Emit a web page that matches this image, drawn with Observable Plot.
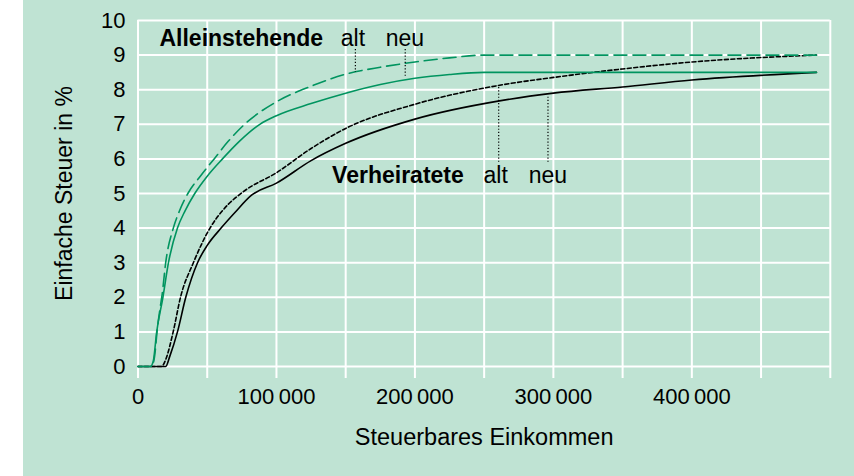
<!DOCTYPE html>
<html>
<head>
<meta charset="utf-8">
<script src="https://cdn.jsdelivr.net/npm/d3@7"></script>
<script src="https://cdn.jsdelivr.net/npm/@observablehq/plot@0.6"></script>
<style>
  html, body { margin: 0; padding: 0; background: #fff; }
</style>
</head>
<body>
<div id="chart"></div>
<script>
// Alleinstehende, alt (dashed green)
const alleinAltX = [0, 10000, 12000, 14000, 16000, 17500, 20000, 25500, 30000, 36000, 45000, 55000, 65000, 77000, 100000, 125000, 150000, 175000, 200000, 225000, 250000, 490000];
const alleinAltY = [0, 0, 0.3, 1.1, 1.7, 2.1, 3.0, 4.0, 4.5, 5.0, 5.5, 6.0, 6.5, 7.0, 7.65, 8.1, 8.45, 8.65, 8.8, 8.92, 9.0, 9.0];
// Alleinstehende, neu (solid green)
const alleinNeuX = [0, 9000, 11000, 13500, 18000, 22000, 28500, 34000, 41000, 50000, 61000, 73000, 88000, 100000, 125000, 150000, 175000, 200000, 225000, 250000, 490000];
const alleinNeuY = [0, 0, 0.15, 1.0, 2.0, 3.0, 4.0, 4.5, 5.0, 5.5, 6.0, 6.5, 7.0, 7.25, 7.6, 7.9, 8.15, 8.33, 8.44, 8.5, 8.5];
// Verheiratete, alt (dotted black)
const verhAltX = [0, 17000, 20000, 25400, 30700, 40000, 52000, 62000, 76000, 100000, 125000, 150000, 200000, 260000, 305000, 350000, 400000, 490000];
const verhAltY = [0, 0, 0.2, 1.0, 2.0, 3.0, 4.0, 4.55, 5.05, 5.6, 6.3, 6.88, 7.58, 8.12, 8.38, 8.6, 8.8, 9.0];
// Verheiratete, neu (solid black)
const verhNeuX = [0, 20000, 23000, 28500, 34500, 43000, 50000, 60000, 70000, 82000, 100000, 125000, 150000, 200000, 260000, 300000, 350000, 400000, 490000];
const verhNeuY = [0, 0, 0.3, 1.0, 2.0, 3.0, 3.5, 4.0, 4.45, 4.95, 5.3, 5.95, 6.45, 7.15, 7.67, 7.9, 8.08, 8.28, 8.5];

const xTicks = [0, 100000, 200000, 300000, 400000];
const xGrid = [0, 50000, 100000, 150000, 200000, 250000, 300000, 350000, 400000, 450000, 500000];
const yTicks = [0, 1, 2, 3, 4, 5, 6, 7, 8, 9, 10];

// Annotation labels
const groupLabels = ["Alleinstehende", "Verheiratete"];
const groupLabelX = [15500, 140200];
const groupLabelY = [9.48, 5.53];
const variantLabels = ["alt", "neu", "alt", "neu"];
const variantLabelX = [155200, 192800, 258300, 296000];
const variantLabelY = [9.48, 9.48, 5.53, 5.53];
// Dotted leaders
const leaderX = [157000, 193000, 260500, 296100];
const leaderY1 = [9.16, 9.16, 5.9, 5.9];
const leaderY2 = [8.5, 8.33, 8.12, 7.83];

const pts = (xs, ys) => xs.map((x, i) => ({x, y: ys[i]}));
const green = "#00945f";
const fmt = d => d3.format(",")(d).replace(/,/g, "\u2009");

const chart = Plot.plot({
  width: 854,
  height: 476,
  marginLeft: 137.5,
  marginRight: 24.2,
  marginTop: 20,
  marginBottom: 110,
  x: {domain: [0, 500000]},
  y: {domain: [0, 10]},
  style: {
    background: "linear-gradient(to right, #ffffff 23px, #bfe3d3 23px)",
    fontFamily: "'Liberation Sans', Arial, sans-serif",
    fontSize: "22px",
    color: "#000"
  },
  marks: [
    Plot.ruleY(yTicks, {stroke: "#fff", strokeWidth: 2}),
    Plot.ruleX(xGrid, {y1: -0.35, y2: 10, stroke: "#fff", strokeWidth: 2}),
    Plot.axisX({ticks: xTicks, tickSize: 0, tickPadding: 22, tickFormat: fmt, label: null, fontSize: 22}),
    Plot.axisY({ticks: yTicks, tickSize: 0, tickPadding: 12.5, label: null, fontSize: 22}),
    Plot.text(["Einfache Steuer in %"], {frameAnchor: "left", textAnchor: "middle", dx: -73.5, rotate: -90, fontSize: 23}),
    Plot.text(["Steuerbares Einkommen"], {frameAnchor: "bottom", textAnchor: "middle", dy: 78, fontSize: 23.5}),
    Plot.line(pts(verhNeuX, verhNeuY), {x: "x", y: "y", stroke: "#000", strokeWidth: 1.6, curve: "monotone-x"}),
    Plot.line(pts(verhAltX, verhAltY), {x: "x", y: "y", stroke: "#000", strokeWidth: 1.6, strokeDasharray: "4,2.5", curve: "monotone-x"}),
    Plot.line(pts(alleinNeuX, alleinNeuY), {x: "x", y: "y", stroke: green, strokeWidth: 1.6, curve: "monotone-x"}),
    Plot.line(pts(alleinAltX, alleinAltY), {x: "x", y: "y", stroke: green, strokeWidth: 1.6, strokeDasharray: "13,6", curve: "monotone-x"}),
    Plot.ruleX(leaderX.map((x, i) => ({x, y1: leaderY1[i], y2: leaderY2[i]})), {x: "x", y1: "y1", y2: "y2", stroke: "#000", strokeWidth: 1.2, strokeDasharray: "1.2,2"}),
    Plot.text(groupLabels.map((t, i) => ({t, x: groupLabelX[i], y: groupLabelY[i]})), {x: "x", y: "y", text: "t", textAnchor: "start", fontWeight: "bold", fontSize: 23}),
    Plot.text(variantLabels.map((t, i) => ({t, x: variantLabelX[i], y: variantLabelY[i]})), {x: "x", y: "y", text: "t", textAnchor: "middle", fontSize: 23})
  ]
});
document.getElementById("chart").appendChild(chart);
</script>
</body>
</html>
